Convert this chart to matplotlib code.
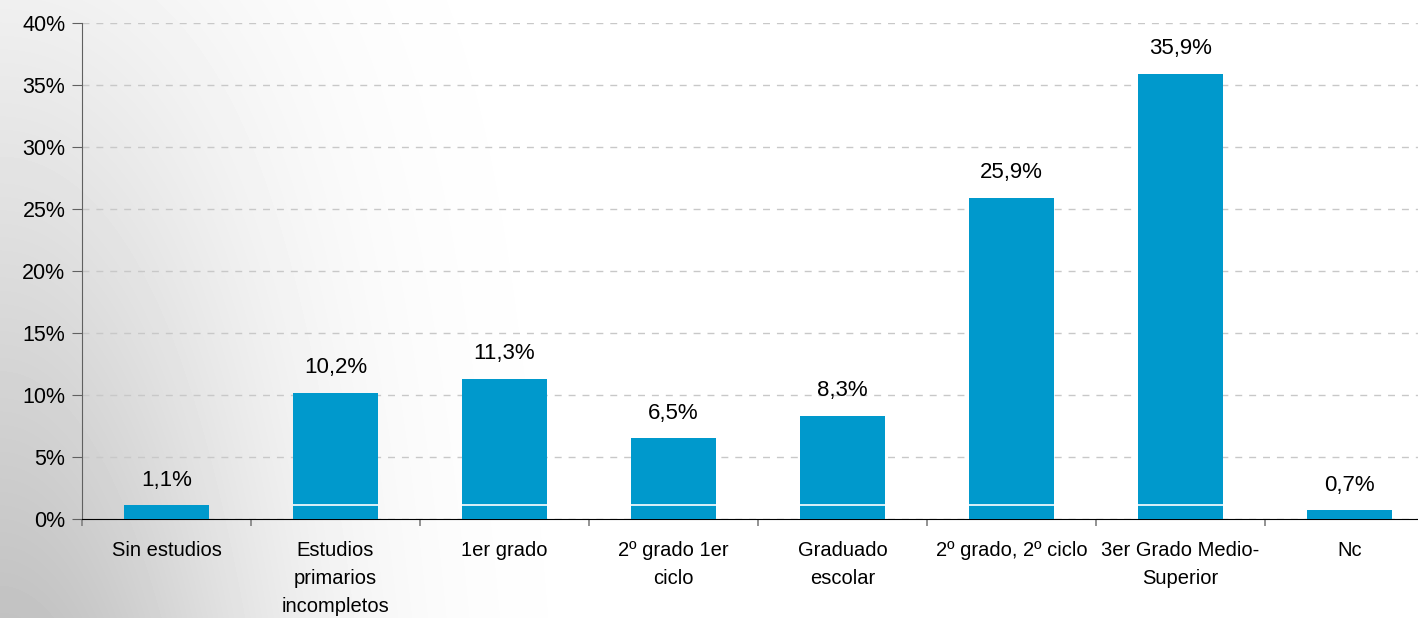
import numpy as np
import matplotlib
matplotlib.use('Agg')
import matplotlib.pyplot as plt
from matplotlib.ticker import FuncFormatter, FixedLocator

categories = ['Sin estudios', 'Estudios\nprimarios\nincompletos', '1er grado',
              '2º grado 1er\nciclo', 'Graduado\nescolar', '2º grado, 2º ciclo',
              '3er Grado Medio-\nSuperior', 'Nc']
values = [1.1, 10.2, 11.3, 6.5, 8.3, 25.9, 35.9, 0.7]
bar_color = '#0099CC'

plt.rcParams['font.family'] = ['Liberation Sans', 'DejaVu Sans']

fig = plt.figure(figsize=(14.18, 6.18), dpi=100)

# grey shading in the lower left corner of the background
bg = fig.add_axes([0, 0, 1, 1], zorder=-10)
h, w = 618, 1418
yy, xx = np.mgrid[0:h, 0:w]
fade = np.exp(-(xx / 270.0) ** 2) * (0.25 + 0.75 * yy / h)
shade = 1 - 0.24 * fade
bg.imshow(shade, cmap='gray', vmin=0, vmax=1, aspect='auto',
          extent=[0, 1, 0, 1], origin='upper')
bg.axis('off')

ax = fig.add_axes([82 / 1418, 99 / 618, 1352 / 1418, 496 / 618])
ax.patch.set_alpha(0)

x = np.arange(len(values))
bars = ax.bar(x, values, width=0.5, color=bar_color, zorder=3)

# thin white line at the height of the first bar
base = values[0]
for b, v in zip(bars, values):
    if v > base + 0.3:
        ax.hlines(base, b.get_x(), b.get_x() + b.get_width(),
                  color='white', lw=1.2, zorder=4)

for b, v in zip(bars, values):
    ax.annotate(f'{v:.1f}%'.replace('.', ','),
                (b.get_x() + b.get_width() / 2, v),
                xytext=(0, 10.5), textcoords='offset points',
                ha='center', va='bottom', fontsize=16)

ax.set_xlim(-0.5, len(values) - 0.5)
ax.set_ylim(0, 40)
ax.set_yticks(np.arange(0, 41, 5))
ax.yaxis.set_major_formatter(FuncFormatter(lambda v, p: f'{v:.0f}%'))
ax.grid(axis='y', color='#c8c8c8', linestyle=(0, (5, 5)), lw=1, zorder=0)

ax.xaxis.set_major_locator(FixedLocator(x - 0.5))
ax.xaxis.set_minor_locator(FixedLocator(x))
ax.set_xticklabels([])
ax.set_xticklabels(categories, minor=True)
ax.tick_params(axis='x', which='major', length=5, color='#808080', width=1.2)
ax.tick_params(axis='x', which='minor', length=0, pad=16, labelsize=14.5)
ax.tick_params(axis='y', length=7, color='#606060', labelsize=15.5, pad=5)
for lbl in ax.get_xticklabels(minor=True):
    lbl.set_verticalalignment('top')
    lbl.set_linespacing(1.6)

for s in ['top', 'right']:
    ax.spines[s].set_visible(False)
ax.spines['left'].set_color('#606060')
ax.spines['bottom'].set_color('black')

fig.savefig('out.png', dpi=100)
